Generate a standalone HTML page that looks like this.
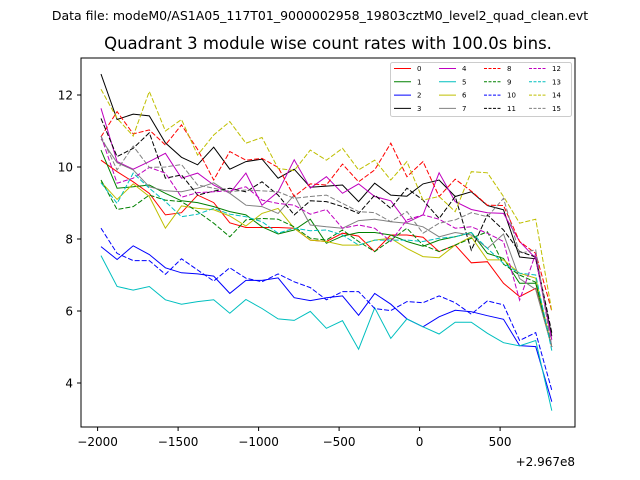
<!DOCTYPE html>
<html><head><meta charset="utf-8"><style>
body{margin:0;background:#fff;}
svg{display:block;font-family:"DejaVu Sans","Liberation Sans",sans-serif;}
</style></head><body>
<svg id="chart" width="640" height="480" viewBox="0 0 640 480" xmlns="http://www.w3.org/2000/svg">
<rect width="640" height="480" fill="#fff"/>
<text x="320" y="20" font-size="12.5" text-anchor="middle">Data file: modeM0/AS1A05_117T01_9000002958_19803cztM0_level2_quad_clean.evt</text>
<text x="328" y="49" font-size="16.5" text-anchor="middle">Quadrant 3 module wise count rates with 100.0s bins.</text>
<g id="marks"></g>
<rect x="81" y="58" width="494" height="369" fill="none" stroke="#000" stroke-width="1"/>
<g id="axes"></g>
<text x="575" y="466" font-size="12" text-anchor="end">+2.967e8</text>
<g id="legend"></g>
</svg>
<script>
const xTicks=[-2000,-1500,-1000,-500,0,500];
const yTicks=[4,6,8,10,12];
const x0=-1979, step=100;
const s0=[10.19,9.87,9.59,9.27,8.67,8.73,9.22,9.01,8.45,8.32,8.32,8.32,8.3,7.97,7.93,8.16,8.08,7.65,8.11,8.11,8.05,7.65,7.83,7.34,7.37,6.77,6.4,6.63,5.0];
const s1=[10.47,9.41,9.45,9.5,9.27,9.06,9.01,8.9,8.76,8.67,8.34,8.14,8.25,8.55,7.88,8.08,8.18,8.18,8.11,7.93,7.8,7.97,8.06,8.18,7.6,7.46,6.77,6.77,5.0];
const s2=[7.79,7.43,7.81,7.57,7.2,7.06,7.03,6.97,6.49,6.85,6.85,6.92,6.37,6.29,6.37,6.42,5.88,6.49,6.19,5.78,5.56,5.84,6.02,5.98,5.87,5.77,5.04,5.01,3.48];
const s3=[12.58,11.32,11.47,11.42,10.67,10.27,10.06,10.55,9.94,10.15,10.22,9.69,9.94,9.44,9.47,9.5,9.04,9.55,9.22,9.19,9.53,9.64,9.18,9.31,8.93,8.81,7.5,7.45,5.3];
const s4=[11.63,10.15,9.94,10.15,10.38,9.69,9.83,9.5,9.27,9.83,8.94,9.31,10.2,9.41,9.73,9.27,9.53,9.18,9.06,8.46,8.67,9.84,9.04,8.82,8.73,8.71,7.93,7.46,5.2];
const s5=[7.54,6.68,6.58,6.68,6.31,6.19,6.26,6.31,5.94,6.32,6.07,5.78,5.74,5.99,5.52,5.73,4.94,6.09,5.24,5.78,5.56,5.36,5.69,5.69,5.38,5.12,5.03,5.18,3.23];
const s6=[9.59,9.1,9.53,9.18,8.3,8.92,8.85,8.81,8.64,8.36,8.71,8.85,8.3,7.97,7.93,7.83,7.83,7.97,8.02,7.74,7.51,7.48,7.83,8.06,7.42,7.42,7.05,6.91,5.0];
const s7=[10.78,10.12,9.92,9.45,9.34,9.31,9.41,9.56,9.27,8.94,8.9,8.71,9.22,8.39,8.34,8.3,8.51,8.55,8.48,8.44,8.34,8.06,8.18,8.11,7.74,8.14,6.9,6.6,5.0];
const s8=[10.84,11.54,10.92,11.03,10.61,11.17,10.49,9.64,10.43,10.19,10.24,9.99,9.18,9.53,9.5,10.08,9.59,9.92,10.66,9.73,10.15,9.18,9.66,9.33,8.94,8.93,7.93,7.6,6.0];
const s9=[9.64,8.82,8.9,9.22,9.08,9.04,8.76,8.44,8.06,8.53,8.57,8.55,8.34,8.02,7.97,8.25,7.93,7.65,7.97,8.3,7.83,7.65,7.83,8.02,8.2,7.3,7.0,6.8,5.0];
const s10=[8.3,7.6,7.4,7.4,7.02,7.45,7.14,6.83,7.2,6.91,6.81,7.03,6.81,6.65,6.31,6.54,6.54,6.07,6.01,6.26,6.23,6.42,6.23,5.91,6.28,6.17,5.18,5.4,3.8];
const s11=[11.35,10.29,10.52,10.95,9.69,9.78,9.22,9.33,9.41,9.31,9.59,9.22,8.67,9.06,9.04,8.9,8.71,9.22,8.85,9.41,9.08,8.57,9.18,7.69,8.67,8.25,7.65,7.5,5.4];
const s12=[10.86,9.55,9.69,9.99,9.83,9.16,9.29,9.31,9.34,9.45,9.08,8.99,8.94,8.69,8.82,8.3,8.39,8.3,7.93,8.53,8.67,8.55,8.3,8.34,8.16,7.93,6.3,7.6,5.0];
const s13=[9.56,8.99,9.83,9.41,9.04,8.62,8.69,8.85,8.69,8.62,8.48,8.16,8.3,8.23,8.25,8.11,7.83,7.97,7.97,7.97,7.93,8.02,8.06,8.18,7.74,7.32,7.05,7.0,4.9];
const s14=[12.16,11.35,10.86,12.1,11.0,11.32,10.33,10.89,11.26,10.66,10.82,9.96,9.9,10.47,10.19,10.52,9.92,10.19,9.64,10.15,9.08,9.18,8.76,9.87,9.84,9.18,8.44,8.55,6.0];
const s15=[10.86,9.92,10.58,9.99,10.0,10.07,9.5,9.41,9.31,9.36,9.34,9.31,9.13,9.18,9.22,8.99,8.76,8.73,8.48,8.76,8.16,8.44,8.53,8.73,8.62,9.13,7.6,7.7,5.0];
const series=[s0,s1,s2,s3,s4,s5,s6,s7,s8,s9,s10,s11,s12,s13,s14,s15];
const colors=["#ff0000","#008000","#0000ff","#000000","#bf00bf","#00bfbf","#bfbf00","#808080"];
const NS="http://www.w3.org/2000/svg";
function X(v){return 419.6+(v)*0.161;}
function Y(v){return 383-(v-4)*36;}
const marks=document.getElementById('marks');
series.forEach((s,k)=>{
  const p=document.createElementNS(NS,'polyline');
  
  
  p.setAttribute('points',s.map((v,i)=>X(x0+i*step).toFixed(1)+','+Y(v).toFixed(1)).join(' '));
  p.setAttribute('fill','none');
  p.setAttribute('stroke',colors[k%8]);
  p.setAttribute('stroke-width','1');
  if(k>=8)p.setAttribute('stroke-dasharray','5,2');
  marks.appendChild(p);
});
const axes=document.getElementById('axes');
xTicks.forEach(t=>{
  const l=document.createElementNS(NS,'line');
  
  
  l.setAttribute('x1',X(t));l.setAttribute('x2',X(t));l.setAttribute('y1',427);l.setAttribute('y2',431);l.setAttribute('stroke','#000');
  axes.appendChild(l);
  const tx=document.createElementNS(NS,'text');
  
  
  tx.setAttribute('x',X(t));tx.setAttribute('y',446);tx.setAttribute('font-size','12');tx.setAttribute('text-anchor','middle');
  tx.textContent=(t<0?'\u2212'+(-t):String(t));
  axes.appendChild(tx);
});
yTicks.forEach(t=>{
  const l=document.createElementNS(NS,'line');
  
  
  l.setAttribute('x1',77);l.setAttribute('x2',81);l.setAttribute('y1',Y(t));l.setAttribute('y2',Y(t));l.setAttribute('stroke','#000');
  axes.appendChild(l);
  const tx=document.createElementNS(NS,'text');
  
  
  tx.setAttribute('x',73);tx.setAttribute('y',Y(t)+4.5);tx.setAttribute('font-size','12');tx.setAttribute('text-anchor','end');
  tx.textContent=String(t);
  axes.appendChild(tx);
});
const lg=document.getElementById('legend');
const box=document.createElementNS(NS,'rect');


box.setAttribute('x',390.5);box.setAttribute('y',62.5);box.setAttribute('width',181);box.setAttribute('height',54);box.setAttribute('rx',2);
box.setAttribute('fill','#fff');box.setAttribute('fill-opacity','0.8');box.setAttribute('stroke','#ccc');
lg.appendChild(box);
for(let k=0;k<16;k++){
  const col=Math.floor(k/4), row=k%4;
  const lx=394+col*45, ly=68.5+row*13.3;
  const l=document.createElementNS(NS,'line');
  
  
  l.setAttribute('x1',lx);l.setAttribute('x2',lx+17);l.setAttribute('y1',ly);l.setAttribute('y2',ly);
  l.setAttribute('stroke',colors[k%8]);l.setAttribute('stroke-width','1');
  if(k>=8)l.setAttribute('stroke-dasharray','3,1.5');
  lg.appendChild(l);
  const tx=document.createElementNS(NS,'text');
  
  
  tx.setAttribute('x',lx+23);tx.setAttribute('y',ly+2.5);tx.setAttribute('font-size','7');
  tx.textContent=String(k);
  lg.appendChild(tx);
}
</script>
</body></html>
